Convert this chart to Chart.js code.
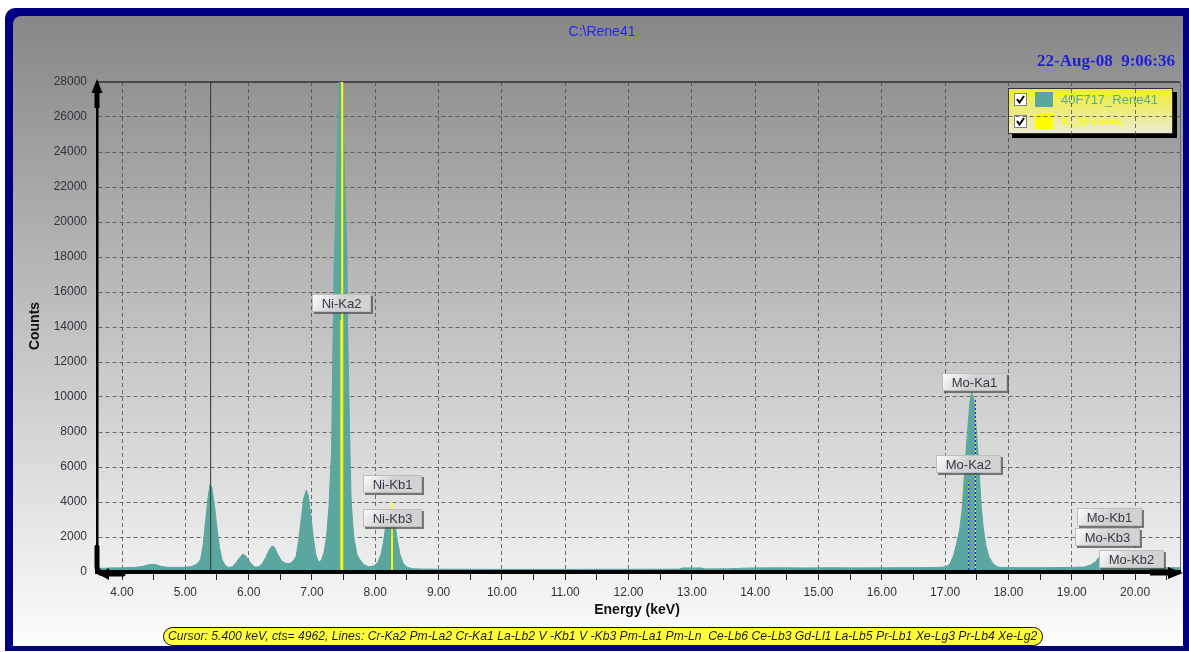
<!DOCTYPE html>
<html><head><meta charset="utf-8">
<script src="https://cdn.jsdelivr.net/npm/chart.js@4.4.0/dist/chart.umd.min.js"></script>
<style>html,body{margin:0;padding:0;background:#fff;overflow:hidden}canvas{display:block}</style>
</head><body>
<canvas id="c" width="1189" height="652"></canvas>
<script>
// ---------------- data ----------------
const chartTitle = 'C:\\Rene41';
const dateText = '22-Aug-08  9:06:36';
const seriesName = '40F717_Rene41';
const linesName = 'KLM Lines';

const energies = [3.62,3.80,4.00,4.20,4.32,4.40,4.47,4.54,4.62,4.72,4.85,5.00,5.10,5.18,5.24,5.28,5.32,5.36,5.39,5.42,5.46,5.50,5.54,5.58,5.63,5.68,5.74,5.80,5.85,5.91,5.96,6.01,6.06,6.11,6.16,6.22,6.28,6.33,6.37,6.41,6.46,6.52,6.58,6.64,6.70,6.75,6.79,6.83,6.87,6.91,6.94,6.98,7.02,7.06,7.09,7.12,7.15,7.19,7.23,7.27,7.31,7.33,7.35,7.37,7.39,7.41,7.43,7.45,7.47,7.49,7.51,7.53,7.55,7.57,7.60,7.62,7.66,7.71,7.76,7.82,7.90,7.98,8.04,8.09,8.13,8.16,8.20,8.24,8.28,8.32,8.35,8.39,8.44,8.50,8.58,8.70,9.00,9.50,10.00,10.50,11.00,11.50,12.00,12.40,12.80,12.85,13.15,13.20,13.60,13.80,14.00,14.40,14.80,15.20,15.60,16.00,16.40,16.80,16.95,17.03,17.08,17.13,17.18,17.23,17.27,17.31,17.35,17.39,17.42,17.45,17.48,17.51,17.54,17.57,17.60,17.64,17.69,17.75,17.82,17.90,18.20,18.60,19.00,19.20,19.30,19.38,19.45,19.52,19.60,19.68,19.76,19.84,19.92,20.05,20.40,20.71];
const counts   = [200,230,240,260,320,400,440,410,320,270,260,270,310,450,700,1500,2900,4300,5000,4800,3800,2500,1400,700,380,260,300,520,780,1030,900,620,380,280,300,500,900,1300,1490,1400,1000,640,500,480,600,900,1800,3000,4200,4680,4400,3300,2000,1000,690,560,700,1100,2000,3800,7000,12500,17500,20000,22500,25500,28500,30500,30000,26500,23000,20500,18500,12500,7000,4000,2000,1000,690,420,300,350,550,1000,1700,2500,3100,3300,3000,2500,1800,1000,500,280,190,170,160,155,150,150,150,155,155,160,165,230,230,175,185,215,235,240,230,245,235,240,245,255,270,320,500,900,1600,2400,3600,5800,7800,9600,10250,9900,8800,7200,5600,3800,2600,1600,900,500,300,255,250,250,260,290,400,600,950,1150,1250,1100,750,450,320,270,250,240];

// KLM marker lines (energy keV, relative height in counts)
const lineNames    = ['Ni-Ka1','Ni-Ka2','Ni-Kb1','Ni-Kb3','Mo-Ka1','Mo-Ka2','Mo-Kb1','Mo-Kb3','Mo-Kb2'];
const lineEnergies = [7.478, 7.461, 8.265, 8.265, 17.479, 17.374, 19.607, 19.590, 19.965];
const lineHeights  = [29000, 14400, 3960, 2070, 9870, 5180, 70, 70, 70];

// line tags (label energy, count level of the tag's lower edge)
const tagNames    = ['Ni-Ka2','Ni-Kb1','Ni-Kb3','Mo-Ka1','Mo-Ka2','Mo-Kb1','Mo-Kb3','Mo-Kb2'];
const tagEnergies = [7.463, 8.28, 8.28, 17.47, 17.37, 19.60, 19.56, 19.94];
const tagCounts   = [14860, 4500, 2560, 10340, 5650, 2610, 1470, 210];

// cursor
const cursorEnergy = 5.400;
const cursorCounts = 4962;
const cursorLines = ['Cr-Ka2','Pm-La2','Cr-Ka1','La-Lb2','V -Kb1','V -Kb3','Pm-La1','Pm-Ln ','Ce-Lb6','Ce-Lb3','Gd-Ll1','La-Lb5','Pr-Lb1','Xe-Lg3','Pr-Lb4','Xe-Lg2'];

// axes
const xMin = 3.605, xMax = 20.71;
const xTickLabels = [4,5,6,7,8,9,10,11,12,13,14,15,16,17,18,19,20];
const xMinorTicks = [4.5,5.5,6.5,7.5,8.5,9.5,10.5,11.5,12.5,13.5,14.5,15.5,16.5,17.5,18.5,19.5,20.5];
const yTicks = [0,2000,4000,6000,8000,10000,12000,14000,16000,18000,20000,22000,24000,26000,28000];
const yTitle = 'Counts';
const xTitle = 'Energy (keV)';

// ---------------- chart ----------------
const SANS = '"Liberation Sans", Arial, sans-serif';
Chart.defaults.font.family = SANS;
const TEAL = '#5ba69f';
const GRID = 'rgba(70,70,70,0.75)';

const datasets = [];
// cursor line
datasets.push({data:[{x:cursorEnergy,y:0},{x:cursorEnergy,y:yTicks[yTicks.length-1]}],
  borderColor:'#35352a', borderWidth:1, fill:false, pointRadius:0, order:0});
lineNames.forEach((n,i)=>{
  const pts = [{x:lineEnergies[i],y:0},{x:lineEnergies[i],y:lineHeights[i]}];
  if (n.startsWith('Mo')) {
    datasets.push({data:pts, borderColor:'#ffff00', borderWidth:1, borderDash:[2,2], fill:false, pointRadius:0, order:0});
    datasets.push({data:pts, borderColor:'#1010ff', borderWidth:1, fill:false, pointRadius:0, order:0});
  } else {
    datasets.push({data:pts, borderColor:'#ffff00', borderWidth:(n==='Ni-Ka1'?2:1.5), fill:false, pointRadius:0, order:0});
  }
});
datasets.push({label:seriesName, data:energies.map((e,i)=>({x:e,y:counts[i]})),
  borderColor:TEAL, backgroundColor:TEAL, borderWidth:1, fill:'origin', pointRadius:0, tension:0, order:10});

function isInt(v){return Math.abs(v-Math.round(v))<1e-6;}

const decor = {
  id:'decor',
  beforeDraw(chart){
    const c = chart.ctx, W = chart.width, H = chart.height;
    c.save();
    c.fillStyle = '#fff'; c.fillRect(0,0,W,H);
    c.fillStyle = '#000080';
    c.beginPath(); c.roundRect(5,8,W-5,H-9,[10,0,0,0]); c.fill();
    const g = c.createLinearGradient(0,17,0,645);
    g.addColorStop(0,'#878787'); g.addColorStop(1,'#fdfdfd');
    c.fillStyle = g;
    c.beginPath(); c.roundRect(13,16,1183-13,646-16,[8,0,0,0]); c.fill();
    // title
    c.fillStyle = '#2323f5'; c.font = '14px '+SANS; c.textAlign='center'; c.textBaseline='middle';
    c.fillText(chartTitle, 602, 32);
    c.fillStyle = '#2020d8'; c.font = 'bold 17px "Liberation Serif", "Times New Roman", serif'; c.textAlign='right';
    c.fillText(dateText, 1175, 62);
    // plot frame
    const a = chart.chartArea;
    c.strokeStyle = '#4a4a4a'; c.lineWidth = 2;
    c.beginPath(); c.moveTo(a.left, a.top); c.lineTo(a.right, a.top); c.stroke();
    c.strokeStyle = '#6a6a6a'; c.lineWidth = 1;
    c.beginPath(); c.moveTo(a.right+0.5, a.top); c.lineTo(a.right+0.5, a.bottom); c.stroke();
    // legend box
    const lx=1008, ly=88, lw=165, lh=46;
    c.fillStyle = '#000'; c.fillRect(lx+4, ly+4, lw, lh);
    const lg = c.createLinearGradient(0,ly,0,ly+lh);
    lg.addColorStop(0,'#eeee2a'); lg.addColorStop(1,'#ebebd8');
    c.fillStyle = lg; c.fillRect(lx,ly,lw,lh);
    c.strokeStyle = '#333'; c.lineWidth=1; c.strokeRect(lx+0.5,ly+0.5,lw-1,lh-1);
    const rows = [{y:ly+12, col:TEAL, text:seriesName, tcol:'#5aa89c'},{y:ly+34, col:'#ffff00', text:linesName, tcol:'#ffff00'}];
    rows.forEach(r=>{
      c.fillStyle='#fff'; c.fillRect(lx+6, r.y-7, 13, 13);
      c.strokeStyle='#808080'; c.strokeRect(lx+6.5, r.y-6.5, 12, 12);
      c.strokeStyle='#000'; c.lineWidth=2; c.beginPath();
      c.moveTo(lx+9, r.y-1); c.lineTo(lx+11.5, r.y+2.5); c.lineTo(lx+16, r.y-4); c.stroke(); c.lineWidth=1;
      c.fillStyle=r.col; c.fillRect(lx+27, r.y-8, 18, 15);
      c.fillStyle=r.tcol; c.font='13px '+SANS; c.textAlign='left'; c.textBaseline='middle';
      c.fillText(r.text, lx+53, r.y);
    });
    // axis titles
    c.fillStyle='#111'; c.font='bold 14px '+SANS; c.textAlign='center'; c.textBaseline='middle';
    c.fillText(xTitle, 637, 610);
    c.save(); c.translate(35, 326); c.rotate(-Math.PI/2); c.fillText(yTitle, 0, 0); c.restore();
    // status bar
    const st = 'Cursor: ' + cursorEnergy.toFixed(3) + ' keV, cts= ' + cursorCounts + ', Lines: ' + cursorLines.join(' ');
    c.fillStyle='#ffff3c'; c.strokeStyle='#111'; c.lineWidth=1;
    c.beginPath(); c.roundRect(163.5, 627.5, 879, 18, 9); c.fill(); c.stroke();
    c.font='italic 12px '+SANS;
    const tw = c.measureText(st).width;
    const fs = Math.min(13, 12*870/tw);
    c.font='italic '+fs.toFixed(2)+'px '+SANS;
    c.fillStyle='#1c1c1c'; c.textAlign='left'; c.textBaseline='middle';
    c.fillText(st, 168, 637);
    c.restore();
  },
  afterDraw(chart){
    const c = chart.ctx, a = chart.chartArea;
    const xs = chart.scales.x, ys = chart.scales.y;
    c.save();
    // tags
    tagNames.forEach((t,i)=>{
      const cx = xs.getPixelForValue(tagEnergies[i]);
      const bottom = ys.getPixelForValue(tagCounts[i]);
      c.font = '13px '+SANS;
      const w = Math.round(c.measureText(t).width + 19), h = 18;
      const x = Math.round(cx - w/2), y = Math.round(bottom - h);
      c.fillStyle = 'rgba(80,80,80,0.75)'; c.fillRect(x+2, y+2, w, h);
      const g = c.createLinearGradient(x, y, x+w*0.3, y+h);
      g.addColorStop(0,'#ffffff'); g.addColorStop(1,'#d2d2d2');
      c.fillStyle = g; c.fillRect(x, y, w, h);
      c.strokeStyle = '#bdbdbd'; c.lineWidth=1; c.strokeRect(x+0.5, y+0.5, w-1, h-1);
      c.fillStyle = '#3a3648'; c.textAlign='center'; c.textBaseline='middle';
      c.fillText(t, x + w/2, y + h/2 + 1);
    });
    // arrows
    c.fillStyle = '#000'; c.strokeStyle = '#000';
    const L = a.left, B = a.bottom, T = a.top, R = a.right;
    c.beginPath(); c.moveTo(L, T-3); c.lineTo(L-5.5, T+11); c.lineTo(L+5.5, T+11); c.closePath(); c.fill();
    c.fillRect(L-2.5, T+10, 5, 16);
    c.beginPath(); c.moveTo(R+3, B+1); c.lineTo(R-12, B-5); c.lineTo(R-12, B+7); c.closePath(); c.fill();
    c.fillRect(R-30, B-2.5, 19, 6);
    c.lineWidth = 5; c.lineCap='round'; c.lineJoin='round';
    c.beginPath(); c.moveTo(L, B-25); c.lineTo(L, B-6); c.quadraticCurveTo(L, B+2, L+8, B+2); c.lineTo(L+26, B+2); c.stroke();
    c.beginPath(); c.moveTo(L+1, B+2); c.lineTo(L+12, B-4); c.lineTo(L+12, B+8); c.closePath(); c.fill();
    c.restore();
  }
};

new Chart(document.getElementById('c'), {
  type:'line',
  data:{datasets},
  plugins:[decor],
  options:{
    responsive:false, animation:false, devicePixelRatio:1,
    layout:{padding:{left:0, top:82, right:9, bottom:0}},
    plugins:{legend:{display:false}, tooltip:{enabled:false}},
    elements:{point:{radius:0}, line:{tension:0}},
    scales:{
      x:{
        type:'linear', min:xMin, max:xMax,
        afterBuildTicks:s=>{ s.ticks = xTickLabels.concat(xMinorTicks).sort((p,q)=>p-q).map(v=>({value:v})); },
        afterFit:s=>{ s.height = 80; },
        ticks:{autoSkip:false, maxRotation:0, minRotation:0, padding:5, color:'#34303c',
          font:{size:12, family:SANS},
          callback:(v)=> isInt(v) ? Number(v).toFixed(2) : ''},
        grid:{color:c=> (c.tick && isInt(c.tick.value)) ? GRID : 'rgba(0,0,0,0)',
          tickColor:'#222', tickLength:8, lineWidth:1},
        border:{display:true, color:'#000', width:4, dash:[4,3], z:1}
      },
      y:{
        min:0, max:yTicks[yTicks.length-1],
        afterBuildTicks:s=>{ s.ticks = yTicks.map(v=>({value:v})); },
        afterFit:s=>{ s.width = 97; },
        ticks:{padding:10, color:'#34303c', font:{size:12, family:SANS}, callback:v=>String(v)},
        grid:{color:GRID, drawTicks:false, lineWidth:1},
        border:{display:true, color:'#000', width:2.5, dash:[4,3], z:1}
      }
    }
  }
});
</script>
</body></html>
